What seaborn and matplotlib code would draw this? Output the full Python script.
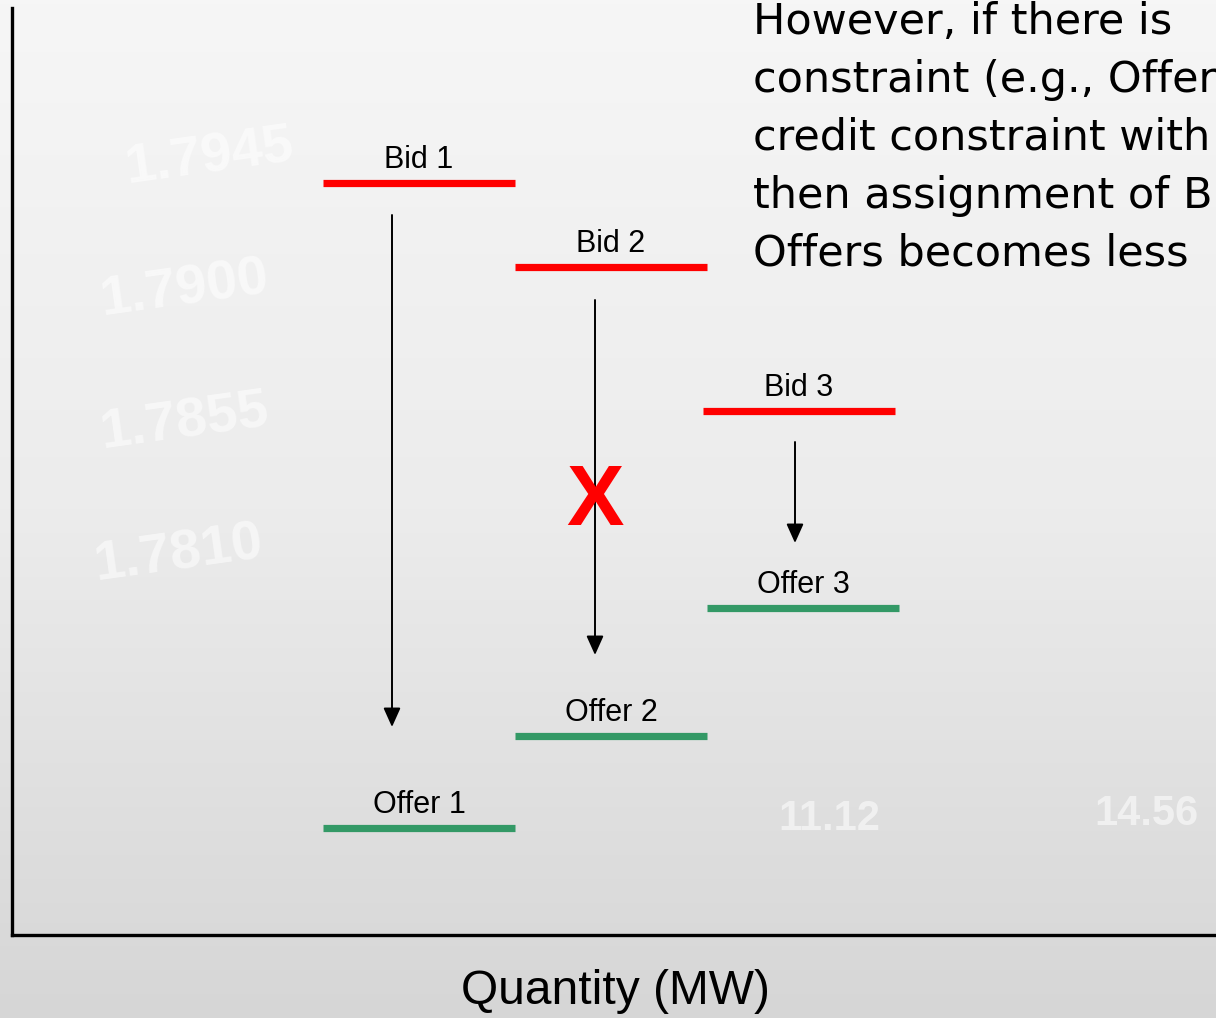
import numpy as np
import pandas as pd
import matplotlib
matplotlib.use("Agg")
import matplotlib.pyplot as plt
import seaborn as sns
from matplotlib.colors import LinearSegmentedColormap

# ---- data (quantity in MW-like units, price in arbitrary units) ----
bid_names = ["Bid 1", "Bid 2", "Bid 3"]
bid_q_start = [3.11, 5.03, 6.91]
bid_q_end = [5.03, 6.95, 8.83]
bid_price = [7.52, 6.68, 5.24]

offer_names = ["Offer 1", "Offer 2", "Offer 3"]
offer_q_start = [3.11, 5.03, 6.95]
offer_q_end = [5.03, 6.95, 8.87]
offer_price = [1.07, 1.99, 3.27]

arrow_q = [3.80, 5.83, 7.83]
arrow_from = [7.20, 6.35, 4.93]
arrow_to = [2.08, 2.80, 3.92]

blocked_q = 5.83
blocked_price = 4.32

x_label = "Quantity (MW)"
note_lines = [
    "However, if there is",
    "constraint (e.g., Offer",
    "credit constraint with",
    "then assignment of B",
    "Offers becomes less",
]

# ---- build long table for seaborn ----
rows = []
for n, a, b, p in zip(bid_names, bid_q_start, bid_q_end, bid_price):
    rows += [dict(seg=n, kind="Bid", q=a, price=p), dict(seg=n, kind="Bid", q=b, price=p)]
for n, a, b, p in zip(offer_names, offer_q_start, offer_q_end, offer_price):
    rows += [dict(seg=n, kind="Offer", q=a, price=p), dict(seg=n, kind="Offer", q=b, price=p)]
df = pd.DataFrame(rows)

sns.set_theme(style="white")
plt.rcParams["font.family"] = ["Liberation Sans", "DejaVu Sans"]
plt.rcParams["text.color"] = "black"

W, H = 1216, 1018
fig = plt.figure(figsize=(W / 100, H / 100), dpi=100)

# background gradient
bg = fig.add_axes([0, 0, 1, 1], zorder=0)
grad = np.linspace(0, 1, 256).reshape(-1, 1)
cmap = LinearSegmentedColormap.from_list("bg", ["#f6f6f6", "#ececec", "#d6d6d6"])
bg.imshow(grad, aspect="auto", cmap=cmap, extent=[0, 1, 0, 1], origin="upper")
bg.set_xlim(0, 1); bg.set_ylim(0, 1)
bg.axis("off")
for txt, x, y, s, r in [("1.7945", 0.10, 0.82, 40, 8), ("1.7900", 0.08, 0.69, 40, 8),
                        ("1.7855", 0.08, 0.56, 40, 8), ("1.7810", 0.075, 0.43, 40, 8),
                        ("11.12", 0.64, 0.185, 30, 0), ("14.56", 0.90, 0.19, 30, 0)]:
    bg.text(x, y, txt, color="white", alpha=0.55, fontsize=s, rotation=r,
            fontweight="bold", transform=bg.transAxes)

ax = fig.add_axes([12 / W, 83 / H, 1204 / W, 927 / H], zorder=1)
ax.patch.set_alpha(0)

sns.lineplot(data=df, x="q", y="price", hue="kind", units="seg", estimator=None,
             palette={"Bid": "#ff0000", "Offer": "#339966"}, lw=5.2,
             legend=False, ax=ax, solid_capstyle="butt")

ax.set_xlim(0, 12.04)
ax.set_ylim(0, 9.27)
ax.set_xticks([]); ax.set_yticks([])
ax.set_xlabel(""); ax.set_ylabel("")
for s in ["top", "right"]:
    ax.spines[s].set_visible(False)
for s in ["left", "bottom"]:
    ax.spines[s].set_visible(True)
    ax.spines[s].set_color("black")
    ax.spines[s].set_linewidth(2.4)

for n, a, b, p in zip(bid_names + offer_names, bid_q_start + offer_q_start,
                      bid_q_end + offer_q_end, bid_price + offer_price):
    ax.annotate(n, xy=((a + b) / 2, p), xytext=(0, 6), textcoords="offset points",
                ha="center", va="bottom", fontsize=22, color="black")

for q, y0, y1 in zip(arrow_q, arrow_from, arrow_to):
    ax.annotate("", xy=(q, y1), xytext=(q, y0),
                arrowprops=dict(arrowstyle="-|>,head_length=0.58,head_width=0.26",
                                mutation_scale=20, color="black", lw=1.4,
                                shrinkA=0, shrinkB=0))

ax.text(blocked_q, blocked_price, "X", color="#ff0000", fontsize=62,
        fontweight="bold", ha="center", va="center")

fig.text(615 / W, 1 - 992 / H, x_label, ha="center", va="center", fontsize=34.5,
         color="black")

for i, line in enumerate(note_lines):
    fig.text(753 / W, 1 - (34 + 58 * i) / H, line, ha="left", va="baseline",
             fontsize=31, family=["DejaVu Sans"], color="black")

fig.savefig("out.png", dpi=100)
